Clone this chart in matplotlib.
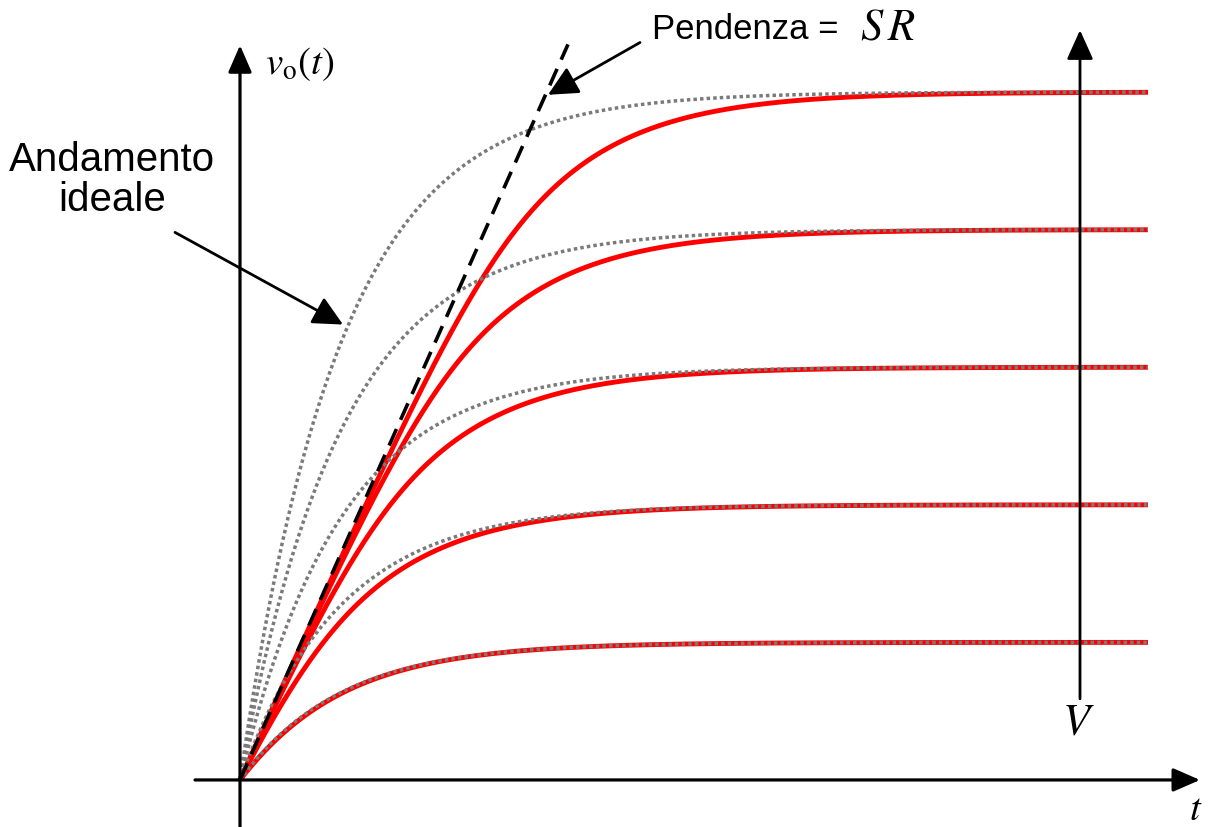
"""
Risposta al gradino di un amplificatore con slew rate limitato.
"""

import numpy as np
import matplotlib
matplotlib.use('Agg')
import matplotlib.pyplot as plt

# --- dati del grafico (unita': tempo in tau, tensione in passi V) ---
levels = [1, 2, 3, 4, 5]        # ampiezze finali dei gradini
tau = 1.0                       # costante di tempo della risposta ideale
slew_rate = 1.63                # pendenza massima (SR) in V/tau
sharpness = 3                   # quanto e' netta la saturazione della pendenza
t_end = 9.08                    # fine delle curve
sr_line_end = 3.28              # fine della retta tratteggiata


def ideal_response(t, v_final):
    return v_final * (1 - np.exp(-t / tau))


def slewed_response(t, v_final):
    # dv/dt = SR * sat((V - v) / (SR * tau)), integrata passo passo
    v = np.zeros_like(t)
    for i in range(1, len(t)):
        dt = t[i] - t[i - 1]
        x = (v_final - v[i - 1]) / (slew_rate * tau)
        sat = x / (1 + abs(x) ** sharpness) ** (1 / sharpness)
        v[i] = v[i - 1] + dt * slew_rate * sat
    return v


def main():
    plt.rcParams['font.family'] = ['Liberation Sans', 'DejaVu Sans']
    plt.rcParams['mathtext.fontset'] = 'stix'

    fig = plt.figure(figsize=(12.09, 8.27), dpi=100)
    ax = fig.add_axes([0, 0, 1, 1])
    ax.set_xlim(-2.40, 9.69)
    ax.set_ylim(-0.342, 5.669)
    ax.axis('off')

    t = np.linspace(0, t_end, 4000)

    # curve reali (rosse) sotto, ideali (grigie punteggiate) sopra
    for v in levels:
        ax.plot(t, slewed_response(t, v), color='#ff0000', linewidth=3.5,
                solid_capstyle='butt', zorder=2)
    for v in levels:
        ax.plot(t, ideal_response(t, v), color='#7a7a7a', linewidth=2.5,
                linestyle=(0, (1, 0.9)), zorder=3)

    # retta con pendenza SR
    ts = np.array([0, sr_line_end])
    ax.plot(ts, slew_rate * ts, color='black', linewidth=2.6,
            dashes=(5, 2.8), zorder=4)

    # assi con freccia
    axis_arrow = dict(arrowstyle='-|>,head_length=0.55,head_width=0.24',
                      color='black', linewidth=2.3, mutation_scale=30,
                      shrinkA=0, shrinkB=0)
    ax.annotate('', xy=(9.60, 0), xytext=(-0.45, 0),
                arrowprops=axis_arrow, zorder=5)
    ax.annotate('', xy=(0, 5.34), xytext=(0, -0.342),
                arrowprops=axis_arrow, zorder=5)

    # freccia V crescente
    ax.annotate('', xy=(8.40, 5.45), xytext=(8.40, 0.59),
                arrowprops=dict(arrowstyle='-|>,head_length=0.6,head_width=0.27',
                                color='black', linewidth=2.0, mutation_scale=30,
                                shrinkA=0, shrinkB=0), zorder=5)
    ax.text(8.38, 0.41, '$V$', fontsize=32, ha='center', va='center')

    # etichette assi
    ax.text(0.60, 5.20, r'$v_{\mathrm{o}}(t)$', fontsize=28,
            ha='center', va='center')
    ax.text(9.56, -0.085, '$t$', fontsize=28, ha='center', va='top')

    # annotazioni
    note_arrow = dict(arrowstyle='-|>,head_length=0.65,head_width=0.32',
                      color='black', linewidth=2.0, mutation_scale=28,
                      shrinkA=0, shrinkB=0)
    ax.annotate('', xy=(3.08, 4.98), xytext=(4.00, 5.36),
                arrowprops=note_arrow, zorder=5)
    ax.text(4.12, 5.385, 'Pendenza =', fontsize=25,
            ha='left', va='baseline')
    ax.text(6.20, 5.385, r'$S\,R$', fontsize=32,
            ha='left', va='baseline')

    ax.annotate('', xy=(1.03, 3.31), xytext=(-0.65, 3.98),
                arrowprops=note_arrow, zorder=5)
    ax.text(-1.28, 4.36, 'Andamento\nideale', fontsize=29,
            ha='center', va='center', multialignment='center',
            linespacing=1.05)

    fig.savefig('out.png', dpi=100, facecolor='white')
    plt.close(fig)


if __name__ == "__main__":
    main()
